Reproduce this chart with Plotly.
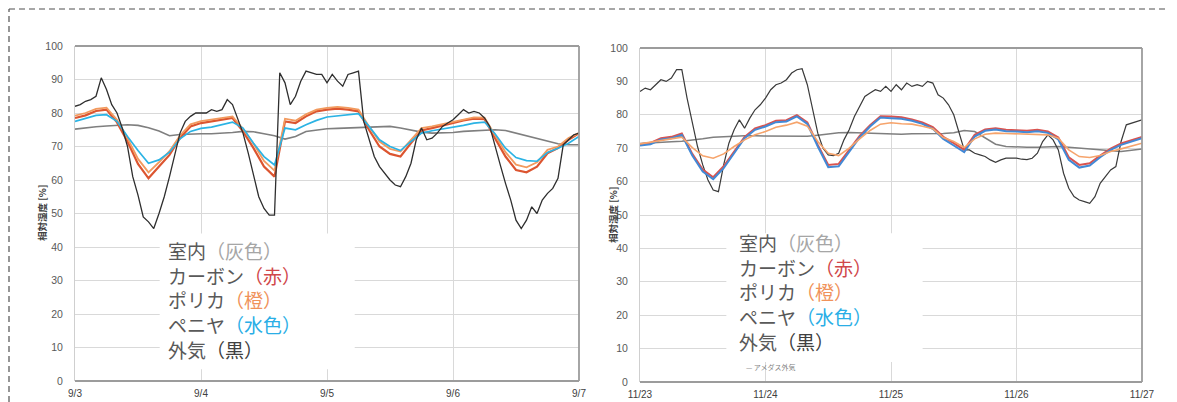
import plotly.graph_objects as go

# ---------------- data ----------------
hours_2h = list(range(0, 97, 2))   # 2-hourly readings, hours from start of first day
hours_1h = list(range(0, 97))      # hourly readings

ticks_left = ["9/3", "9/4", "9/5", "9/6", "9/7"]
ticks_right = ["11/23", "11/24", "11/25", "11/26", "11/27"]

# Left panel (9/3 - 9/7)
indoor_L = [75.2, 75.6, 75.9, 76.1, 76.3, 76.5, 76.3, 75.6, 74.6, 73.2,
            73.6, 73.8, 73.8, 73.8, 73.9, 74.2, 74.5, 74.4, 73.8, 73.2,
            72.2, 73.0, 74.5, 75.0, 75.3, 75.4, 75.5, 75.6, 75.8, 76.0,
            76.0, 75.5, 74.8, 74.3, 74.0, 74.0, 74.2, 74.5, 74.7, 75.0,
            75.0, 74.8, 74.0, 73.2, 72.5, 71.5, 70.8, 70.5, 70.5]
carbon_L = [78.5, 79.3, 80.6, 81.0, 77.2, 71.5, 64.8, 60.5, 64.0, 67.5,
            72.5, 76.0, 77.0, 77.5, 78.0, 78.5, 74.5, 69.5, 64.0, 61.0,
            77.5, 77.0, 79.0, 80.5, 81.0, 81.3, 81.0, 80.5, 75.0, 70.0,
            67.8, 67.0, 71.0, 74.8, 75.5, 76.3, 77.0, 77.8, 78.3, 78.2,
            72.5, 67.0, 63.0, 62.3, 64.0, 68.0, 69.5, 72.0, 74.0]
polyca_L = [79.2, 80.0, 81.2, 81.6, 78.0, 72.5, 66.3, 62.3, 65.3, 68.6,
            73.3, 76.6, 77.6, 78.1, 78.6, 79.0, 75.3, 70.8, 65.7, 62.8,
            78.3, 77.7, 79.6, 81.0, 81.5, 81.8, 81.5, 81.0, 76.0, 71.5,
            69.3, 68.5, 72.0, 75.5, 76.0, 76.7, 77.4, 78.2, 78.7, 78.6,
            73.5, 68.3, 64.6, 63.8, 65.3, 69.0, 70.0, 72.5, 74.0]
plywood_L = [77.5, 78.3, 79.3, 79.5, 77.5, 73.0, 68.8, 65.0, 66.0, 68.3,
             72.3, 74.5, 75.4, 75.8, 76.5, 77.3, 75.5, 71.0, 67.0, 64.5,
             75.5, 75.0, 76.5, 77.8, 78.8, 79.2, 79.5, 79.8, 76.0, 72.0,
             70.0, 68.8, 71.5, 74.0, 74.7, 75.2, 75.7, 76.3, 77.0, 77.3,
             73.8, 69.5, 66.7, 65.8, 65.6, 68.2, 69.5, 71.0, 73.0]
outdoor_L = [82, 82.5, 83.5, 84, 85, 90.5, 87, 82.5, 80, 75.5, 70, 61,
             55.5, 49, 47.5, 45.5, 50, 55, 61, 68, 74, 77.5, 79, 80,
             80, 80, 81, 80.5, 81, 84, 82.5, 78, 74, 68, 61.5, 55,
             51.5, 49.5, 49.5, 92, 89, 82.5, 85, 89.5, 92.5, 92, 91.5, 91.5,
             89, 91.5, 89.5, 88, 91.5, 92, 92.5, 77.5, 72, 67, 64, 62,
             60, 58.5, 58, 61, 65, 72, 75.5, 72, 72.5, 74, 76, 77,
             78, 79.5, 81, 80, 80.5, 80, 78.5, 76, 70, 64.5, 59, 54,
             48, 45.5, 48, 52, 50, 54, 56, 57.5, 60.5, 70.5, 72, 73.5, 74]

# Right panel (11/23 - 11/27)
indoor_R = [71.4, 71.5, 71.7, 71.9, 72.1, 72.4, 72.8, 73.3, 73.5, 73.7,
            73.7, 73.7, 73.7, 73.6, 73.5, 73.5, 73.6, 73.9, 74.3, 74.6,
            74.7, 74.6, 74.4, 74.3, 74.2, 74.2, 74.3, 74.3, 74.3, 74.4,
            74.6, 75.3, 75.0, 73.2, 71.2, 70.5, 70.3, 70.3, 70.3, 70.4,
            70.5, 70.3, 70.0, 69.7, 69.4, 69.1, 69.0, 69.4, 69.8]
carbon_R = [71.2, 71.6, 73.0, 73.4, 74.4, 68.3, 63.6, 61.3, 64.6, 69.2,
            73.4, 75.9, 76.9, 78.2, 78.4, 79.9, 77.7, 71.0, 65.0, 65.3,
            69.6, 73.7, 76.9, 79.6, 79.5, 79.3, 78.6, 77.7, 76.3, 73.4,
            71.5, 69.5, 74.0, 75.6, 76.0, 75.5, 75.4, 75.2, 75.5, 75.0,
            73.2, 67.3, 65.0, 65.5, 67.8, 69.9, 71.4, 72.4, 73.4]
polyca_R = [71.3, 71.8, 72.3, 73.0, 73.3, 70.2, 67.7, 67.0, 68.3, 70.5,
            72.5, 74.0, 75.0, 76.3, 76.9, 77.8, 76.6, 72.0, 68.5, 67.8,
            70.0, 72.8, 75.3, 77.2, 77.6, 77.3, 77.2, 76.6, 75.8, 73.2,
            72.0, 70.2, 72.8, 74.2, 74.5, 74.4, 74.3, 74.2, 74.0, 74.0,
            73.0, 69.5, 67.5, 67.2, 67.8, 69.0, 69.8, 70.6, 71.5]
plywood_R = [70.8, 71.2, 72.6, 73.0, 74.0, 67.8, 63.0, 60.7, 64.0, 68.7,
             73.0, 75.5, 76.5, 77.8, 78.0, 79.5, 77.3, 70.5, 64.3, 64.6,
             69.0, 73.2, 76.5, 79.2, 79.0, 78.8, 78.2, 77.3, 75.8, 72.8,
             70.8, 68.8, 73.5, 75.2, 75.6, 75.1, 75.0, 74.8, 75.1, 74.6,
             72.6, 66.5, 64.2, 64.8, 67.3, 69.5, 71.0, 72.0, 73.0]
outdoor_R = [87, 88, 87.5, 89, 90.5, 90, 91, 93.5, 93.5, 85, 77.5, 70.5,
             65, 60.5, 57.5, 57, 65, 71.5, 75.5, 78.5, 76, 79, 81.5, 83,
             85, 87.5, 89, 89.5, 90.5, 92.5, 93.5, 93.8, 89, 82, 74.5, 70,
             68, 67.8, 68.5, 72.5, 75.5, 79.5, 82.5, 85.5, 86.5, 87.5, 87, 88.5,
             87, 89, 87.5, 89.5, 88.5, 89, 88.5, 90, 89.5, 86, 85, 83,
             80, 74.5, 69.5, 69.5, 68.5, 68, 67.5, 66.5, 65.8, 66.5, 67, 67,
             67, 66.7, 66.6, 67, 68.5, 72, 74, 72.5, 69.5, 62.5, 58, 55.5,
             54.5, 54, 53.5, 55.5, 59.5, 61.5, 63.5, 64.5, 72, 77, 77.5, 78, 78.5]

legend_lines = [("室内", "（灰色）", "#a6a6a6"),
                ("カーボン", "（赤）", "#d0474a"),
                ("ポリカ", "（橙）", "#f0925a"),
                ("ペニヤ", "（水色）", "#2aaee6"),
                ("外気", "（黒）", "#404040")]

# ---------------- figure ----------------
fig = go.Figure()

def add(x, y, color, width, xa, ya):
    fig.add_trace(go.Scatter(x=x, y=y, mode="lines", xaxis=xa, yaxis=ya,
                             line=dict(color=color, width=width),
                             showlegend=False, hoverinfo="skip"))

# left
add(hours_2h, indoor_L, "#7f7f7f", 1.6, "x", "y")
add(hours_2h, carbon_L, "#dc5530", 2.2, "x", "y")
add(hours_2h, polyca_L, "#f29a5e", 1.8, "x", "y")
add(hours_2h, plywood_L, "#2bb3e4", 1.7, "x", "y")
add(hours_1h, outdoor_L, "#2e2e2e", 1.3, "x", "y")
# right
add(hours_2h, indoor_R, "#7f7f7f", 1.5, "x2", "y2")
add(hours_1h, outdoor_R, "#3a3a3a", 1.2, "x2", "y2")
add(hours_2h, carbon_R, "#d9534f", 2.0, "x2", "y2")
add(hours_2h, plywood_R, "#4289d6", 2.0, "x2", "y2")
add(hours_2h, polyca_R, "#f6a46c", 1.6, "x2", "y2")

# the page body adds an 8px offset; lay out in window pixels
OX, OY = 8, 8
W, H = 1177 - OX, 402 - OY

def px(x):
    return (x - OX) / W

def py(y):
    return 1 - (y - OY) / H

tickfont = dict(family="Liberation Sans, Arial", size=10.5, color="#595959")
xtickfont = dict(family="Liberation Sans, Arial", size=10, color="#404040")

def xaxis(dom, ticktext, anchor):
    return dict(domain=dom, range=[0, 96], tickvals=[0, 24, 48, 72, 96],
                ticktext=ticktext, showgrid=True, gridcolor="#d9d9d9",
                gridwidth=1, zeroline=False, showline=False, ticks="",
                tickfont=xtickfont, anchor=anchor, ticklabelstandoff=5,
                automargin=False, fixedrange=True)

def yaxis(dom, anchor):
    return dict(domain=dom, range=[0, 100], dtick=10, showgrid=True,
                gridcolor="#d9d9d9", gridwidth=1, zeroline=False,
                showline=True, linecolor="#cfcfcf", linewidth=1, ticks="",
                tickfont=tickfont, anchor=anchor, ticklabelstandoff=9,
                automargin=False, fixedrange=True)

fig.update_layout(
    width=W, height=H, autosize=False,
    margin=dict(l=0, r=0, t=0, b=0, pad=0, autoexpand=False),
    paper_bgcolor="white", plot_bgcolor="white",
    xaxis=xaxis([px(75), px(579)], ticks_left, "y"),
    yaxis=yaxis([py(381), py(46)], "x"),
    xaxis2=xaxis([px(640), px(1142)], ticks_right, "y2"),
    yaxis2=yaxis([py(382), py(48)], "x2"),
)

shapes = []
# plot frames (top, right, bottom)
for xr, yr in (("x domain", "y domain"), ("x2 domain", "y2 domain")):
    frame = dict(type="line", xref=xr, yref=yr, line=dict(color="#9c9c9c", width=1.8))
    shapes.append({**frame, "x0": 0, "x1": 1, "y0": 1, "y1": 1})
    shapes.append({**frame, "x0": 1, "x1": 1, "y0": 0, "y1": 1})
    shapes.append({**frame, "x0": 0, "x1": 1, "y0": 0, "y1": 0})

# white legend boxes
shapes.append(dict(type="rect", xref="x domain", yref="y domain",
                   x0=0.168, x1=0.555, y0=0.035, y1=0.44,
                   fillcolor="white", line=dict(width=0), layer="above"))
shapes.append(dict(type="rect", xref="x2 domain", yref="y2 domain",
                   x0=0.172, x1=0.563, y0=0.06, y1=0.445,
                   fillcolor="white", line=dict(width=0), layer="above"))

# dashed outer border (left, top, right) - as close to the window edge as the page allows
dash = dict(type="line", xref="paper", yref="paper",
            line=dict(color="#505050", width=1.2, dash="6px,4px"))
bx0, bx1, by0 = px(9), px(1172), py(9)
shapes.append({**dash, "x0": bx0, "x1": bx0, "y0": 0, "y1": by0})
shapes.append({**dash, "x0": bx0, "x1": bx1, "y0": by0, "y1": by0})
shapes.append({**dash, "x0": bx1, "x1": bx1, "y0": 0, "y1": by0})
fig.update_layout(shapes=shapes)

ann = []
cjk = "Noto Sans CJK JP"
legend_text = "<br>".join(
    f"<span style='color:#595959'>{name}</span><span style='color:{col}'>{paren}</span>"
    for name, paren, col in legend_lines)
for xpx, ypx in ((166, 300), (737, 292)):
    ann.append(dict(xref="paper", yref="paper", x=px(xpx), y=py(ypx),
                    xanchor="left", yanchor="middle", align="left",
                    showarrow=False, text=legend_text,
                    font=dict(family=cjk, size=19, color="#595959")))

# small source note in right panel
ann.append(dict(xref="paper", yref="paper", x=px(744), y=py(367),
                xanchor="left", yanchor="middle", showarrow=False,
                text="— アメダス外気", font=dict(family=cjk, size=7, color="#808080")))

# y-axis titles
for xpx, ypx in ((42, 213), (613, 215)):
    ann.append(dict(xref="paper", yref="paper", x=px(xpx), y=py(ypx),
                    xanchor="center", yanchor="middle", showarrow=False,
                    textangle=-90, text="<b>相対湿度 [%]</b>",
                    font=dict(family=cjk, size=9.5, color="#404040")))
fig.update_layout(annotations=ann)

fig.write_html("out.html")
